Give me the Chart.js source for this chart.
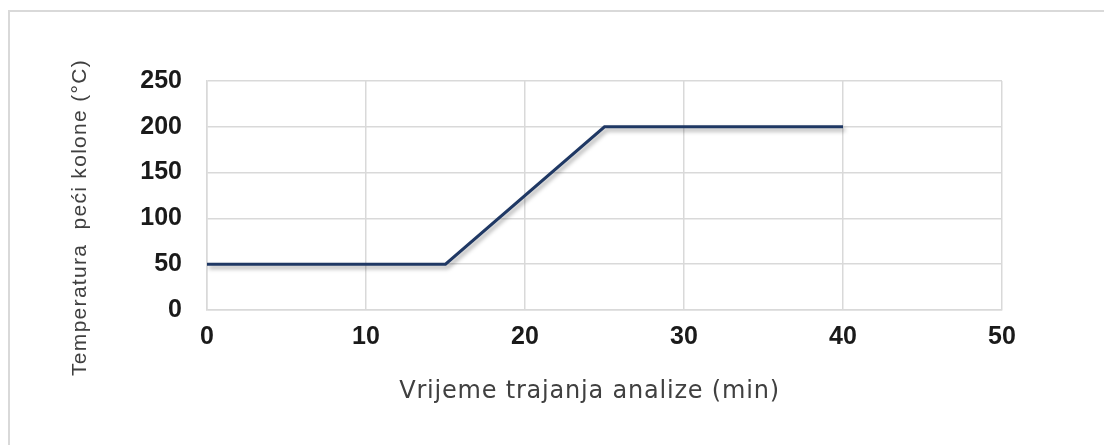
<!DOCTYPE html>
<html>
<head>
<meta charset="utf-8">
<script src="https://cdn.jsdelivr.net/npm/chart.js@4"></script>
<style>
  html, body { margin: 0; padding: 0; background: #fff; }
  #wrap { position: relative; width: 1104px; height: 445px; overflow: hidden; }
  #frame { position: absolute; left: 8px; top: 10px; width: 1200px; height: 500px;
           border-top: 2px solid #d9d9d9; border-left: 2px solid #d9d9d9; }
  canvas { position: absolute; left: 0; top: 0; }
</style>
</head>
<body>
<div id="wrap">
  <div id="frame"></div>
  <canvas id="chart" width="1104" height="445"></canvas>
</div>
<script>
// temperature program of the column oven
const timeMin = [0, 15, 25, 40];
const tempC = [50, 50, 200, 200];
const xTicks = [0, 10, 20, 30, 40, 50];
const yTicks = [0, 50, 100, 150, 200, 250];

const xTitle = "Vrijeme trajanja analize (min)";
const yTitle = "Temperatura  peći kolone (°C)";

// soft drop shadow under the line, like the office chart
const lineShadow = {
    id: "lineShadow",
    beforeDatasetDraw(chart) {
        const ctx = chart.ctx;
        ctx.save();
        ctx.shadowColor = "rgba(0,0,0,0.35)";
        ctx.shadowBlur = 4;
        ctx.shadowOffsetX = 2;
        ctx.shadowOffsetY = 3;
    },
    afterDatasetDraw(chart) {
        chart.ctx.restore();
    }
};

// axis titles drawn by hand: the original has slightly wide letter spacing
const axisTitles = {
    id: "axisTitles",
    afterDraw(chart) {
        const { ctx, chartArea: a } = chart;
        ctx.save();
        ctx.fillStyle = "#404040";
        ctx.textAlign = "center";
        ctx.textBaseline = "middle";

        ctx.font = "24px 'DejaVu Sans', Verdana, sans-serif";
        ctx.letterSpacing = "0.8px";
        ctx.fillText(xTitle, (a.left + a.right) / 2 - 15, a.bottom + 82);

        ctx.font = "21px 'Liberation Sans', Arial, sans-serif";
        ctx.letterSpacing = "1.3px";
        ctx.translate(a.left - 127, (a.top + a.bottom) / 2 + 22);
        ctx.rotate(-Math.PI / 2);
        ctx.fillText(yTitle, 0, 0);
        ctx.restore();
    }
};

const tickFont = { family: "'Liberation Sans', Arial, sans-serif", size: 25, weight: "bold" };

new Chart(document.getElementById("chart"), {
    type: "scatter",
    data: {
        datasets: [{
            data: timeMin.map((t, i) => ({ x: t, y: tempC[i] })),
            showLine: true,
            borderColor: "#1f3864",
            borderWidth: 3,
            pointRadius: 0,
            tension: 0
        }]
    },
    options: {
        responsive: false,
        animation: false,
        layout: { padding: { top: 81, right: 102, bottom: 0, left: 0 } },
        plugins: { legend: { display: false }, tooltip: { enabled: false } },
        scales: {
            x: {
                type: "linear",
                min: 0, max: 50,
                afterBuildTicks: (s) => { s.ticks = xTicks.map(v => ({ value: v })); },
                afterFit: (s) => { s.height = 135; },
                grid: { color: "#d9d9d9", lineWidth: 1.5, drawTicks: false },
                border: { color: "#d9d9d9", width: 1.5 },
                ticks: { color: "#1a1a1a", font: tickFont, padding: 12 }
            },
            y: {
                min: 0, max: 250,
                afterBuildTicks: (s) => { s.ticks = yTicks.map(v => ({ value: v })); },
                afterFit: (s) => { s.width = 207; },
                grid: { color: "#d9d9d9", lineWidth: 1.5, drawTicks: false },
                border: { color: "#d9d9d9", width: 1.5 },
                ticks: { color: "#1a1a1a", font: tickFont, padding: 25 }
            }
        }
    },
    plugins: [lineShadow, axisTitles]
});
</script>
</body>
</html>
